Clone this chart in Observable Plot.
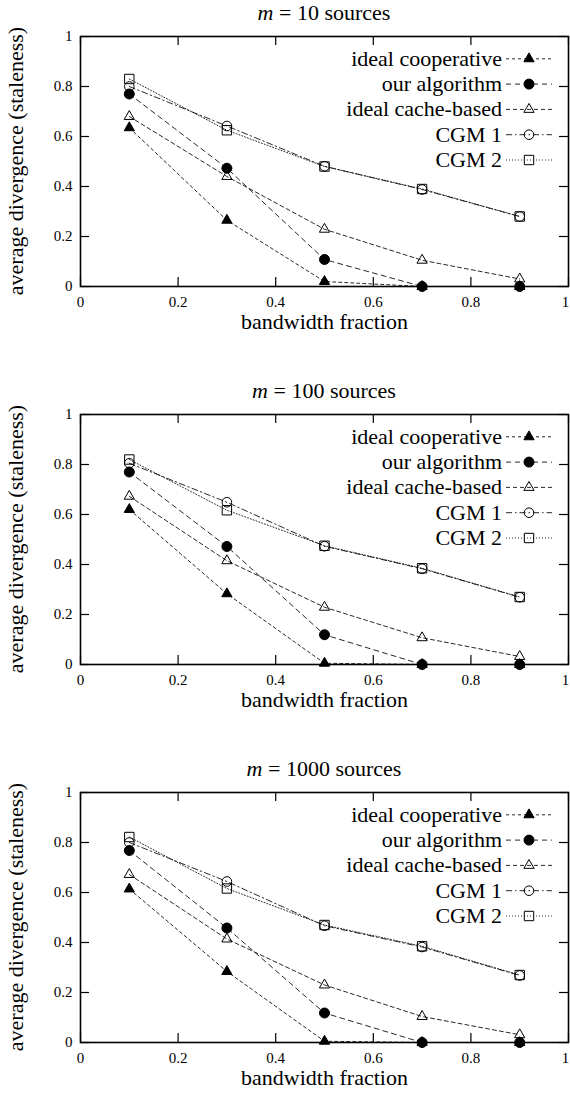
<!DOCTYPE html>
<html>
<head>
<meta charset="utf-8">
<script src="https://cdn.jsdelivr.net/npm/d3@7"></script>
<script src="https://cdn.jsdelivr.net/npm/@observablehq/plot@0.6"></script>
<style>
  body { margin: 0; background: #fff; }
  svg { display: block; }
</style>
</head>
<body>
<div id="chart"></div>
<script>
// ---- data ----
const bandwidth = [0.1, 0.3, 0.5, 0.7, 0.9];
const seriesNames = ["ideal cooperative", "our algorithm", "ideal cache-based", "CGM 1", "CGM 2"];
const panelSources = [10, 100, 1000];
const xTicks = [0, 0.2, 0.4, 0.6, 0.8, 1];
const yTicks = [0, 0.2, 0.4, 0.6, 0.8, 1];
const xLabel = "bandwidth fraction";
const yLabel = "average divergence (staleness)";

const m10_idealCooperative = [0.635, 0.265, 0.02, 0, 0];
const m10_ourAlgorithm     = [0.77, 0.473, 0.108, 0, 0];
const m10_idealCacheBased  = [0.68, 0.44, 0.229, 0.105, 0.03];
const m10_cgm1             = [0.80, 0.642, 0.481, 0.388, 0.28];
const m10_cgm2             = [0.83, 0.625, 0.48, 0.39, 0.28];

const m100_idealCooperative = [0.62, 0.283, 0.005, 0, 0];
const m100_ourAlgorithm     = [0.77, 0.472, 0.119, 0, 0];
const m100_idealCacheBased  = [0.673, 0.415, 0.229, 0.107, 0.032];
const m100_cgm1             = [0.805, 0.649, 0.473, 0.383, 0.269];
const m100_cgm2             = [0.82, 0.617, 0.475, 0.385, 0.27];

const m1000_idealCooperative = [0.614, 0.284, 0.005, 0, 0];
const m1000_ourAlgorithm     = [0.768, 0.458, 0.118, 0, 0];
const m1000_idealCacheBased  = [0.672, 0.414, 0.23, 0.104, 0.031];
const m1000_cgm1             = [0.80, 0.644, 0.467, 0.382, 0.268];
const m1000_cgm2             = [0.822, 0.616, 0.47, 0.385, 0.27];

const panelSeries = [
  [m10_idealCooperative, m10_ourAlgorithm, m10_idealCacheBased, m10_cgm1, m10_cgm2],
  [m100_idealCooperative, m100_ourAlgorithm, m100_idealCacheBased, m100_cgm1, m100_cgm2],
  [m1000_idealCooperative, m1000_ourAlgorithm, m1000_idealCacheBased, m1000_cgm1, m1000_cgm2]
];

// ---- styles ----
const FONT = "'Liberation Serif','Times New Roman',Times,serif";
const BIG = 22;
const styles = [
  {dash: "3,3",       symbol: "triangle", fill: "#000", r: 3.8},
  {dash: "5,4",       symbol: "circle",   fill: "#000", r: 5},
  {dash: "4,3",       symbol: "triangle", fill: "none", r: 3.8},
  {dash: "6,3,1.5,3", symbol: "circle",   fill: "none", r: 4.8},
  {dash: "1,2",       symbol: "square",   fill: "none", r: 5.3}
];
const d3Symbols = {triangle: d3.symbolTriangle, circle: d3.symbolCircle, square: d3.symbolSquare};

const W = 570, H = 378, ML = 80, MR = 2, MT = 36, MB = 92;
const innerW = W - ML - MR, innerH = H - MT - MB;

function makePanel(m, values) {
  const rows = [];
  values.forEach((arr, s) => arr.forEach((v, i) => rows.push({series: seriesNames[s], s, x: bandwidth[i], y: v})));
  const marks = [];
  styles.forEach((st, s) => {
    const d = rows.filter(r => r.s === s);
    marks.push(Plot.line(d, {x: "x", y: "y", stroke: "#111", strokeWidth: 0.9, strokeDasharray: st.dash}));
  });
  styles.forEach((st, s) => {
    const d = rows.filter(r => r.s === s);
    marks.push(Plot.dot(d, {x: "x", y: "y", symbol: () => st.symbol, r: st.r,
      fill: st.fill, stroke: "#000", strokeWidth: 1}));
  });
  const lastX = xTicks[xTicks.length - 1];
  const plot = Plot.plot({
    width: W, height: H,
    marginLeft: ML, marginRight: MR, marginTop: MT, marginBottom: MB,
    style: {fontFamily: FONT, fontSize: "15px", color: "#000", background: "#fff", overflow: "visible"},
    x: {domain: [0, 1]},
    y: {domain: [0, 1]},
    symbol: {domain: ["triangle", "circle", "square"], range: ["triangle", "circle", "square"]},
    marks: [
      // inward tick marks on all four sides
      Plot.tickX(xTicks, {x: d => d, insetTop: innerH - 9, stroke: "#000", strokeWidth: 1.2}),
      Plot.tickX(xTicks, {x: d => d, insetBottom: innerH - 9, stroke: "#000", strokeWidth: 1.2}),
      Plot.tickY(yTicks, {y: d => d, insetRight: innerW - 9, stroke: "#000", strokeWidth: 1.2}),
      Plot.tickY(yTicks, {y: d => d, insetLeft: innerW - 9, stroke: "#000", strokeWidth: 1.2}),
      Plot.axisX(xTicks.slice(0, -1), {tickSize: 0, tickPadding: 10, tickFormat: d => String(d), label: null, fontSize: 15}),
      Plot.axisX([lastX], {tickSize: 0, tickPadding: 10, tickFormat: d => String(d), label: null, fontSize: 15, dx: -3}),
      Plot.axisY(yTicks, {tickSize: 0, tickPadding: 8, tickFormat: d => String(d), label: null, fontSize: 15}),
      Plot.text([xLabel], {frameAnchor: "bottom", dy: 42, fontSize: BIG, text: d => d}),
      ...marks,
      Plot.frame({stroke: "#000", strokeWidth: 1.6})
    ]
  });

  const svg = d3.select(plot);
  // y-axis label
  svg.append("text")
    .attr("transform", `translate(23,${MT + innerH / 2}) rotate(-90)`)
    .attr("text-anchor", "middle")
    .attr("font-family", FONT).attr("font-size", BIG).attr("fill", "#000")
    .text(yLabel);
  // title
  const t = svg.append("text")
    .attr("x", ML + innerW / 2).attr("y", 20)
    .attr("text-anchor", "middle")
    .attr("font-family", FONT).attr("font-size", BIG).attr("fill", "#000");
  t.append("tspan").attr("font-style", "italic").text("m");
  t.append("tspan").text(" = " + m + " sources");

  // legend
  const lg = svg.append("g").attr("font-family", FONT).attr("font-size", BIG);
  styles.forEach((st, i) => {
    const cy = MT + 22.8 + i * 25.3;
    lg.append("text").attr("x", 502).attr("y", cy + 7).attr("text-anchor", "end")
      .attr("fill", "#000").text(seriesNames[i]);
    lg.append("line").attr("x1", 506).attr("x2", 552).attr("y1", cy).attr("y2", cy)
      .attr("stroke", "#111").attr("stroke-width", 0.9).attr("stroke-dasharray", st.dash);
    lg.append("path").attr("transform", `translate(529,${cy})`)
      .attr("d", d3.symbol(d3Symbols[st.symbol], Math.PI * st.r * st.r)())
      .attr("fill", st.fill).attr("stroke", "#000").attr("stroke-width", 1);
  });
  return plot;
}

const root = document.getElementById("chart");
panelSources.forEach((m, p) => root.appendChild(makePanel(m, panelSeries[p])));
</script>
</body>
</html>
